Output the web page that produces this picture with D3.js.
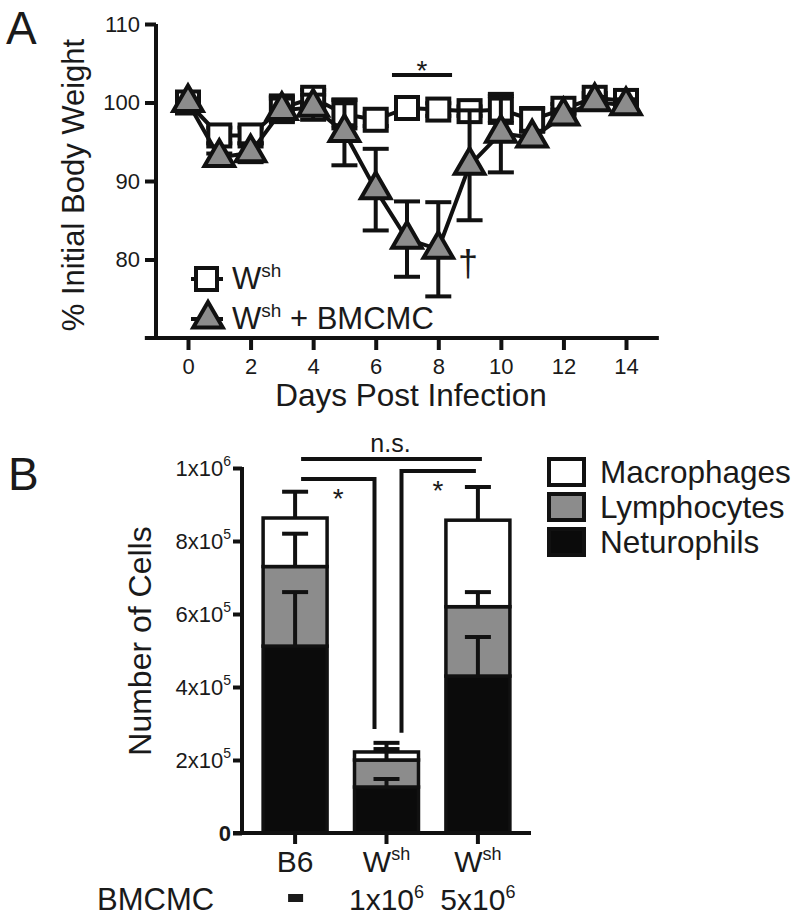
<!DOCTYPE html>
<html>
<head>
<meta charset="utf-8">
<title>Body weight and BAL cells</title>
<style>
  body { margin: 0; background: #fff; }
  text { font-family: "Liberation Sans", Arial, Helvetica, sans-serif; fill: #1a1a1a; }
</style>
</head>
<body>
<script src="https://d3js.org/d3.v7.min.js"></script>
<script>
// ---- panel A data: % initial body weight ----
var days = [0, 1, 2, 3, 4, 5, 6, 7, 8, 9, 10, 11, 12, 13, 14];
var wshMean = [100, 95.8, 95.8, 99.3, 100.6, 98.5, 97.8, 99.3, 99.1, 98.9, 99.1, 97.8, 99.2, 100.6, 100.2];
var wshErr  = [0.5, 1.0, 1.0, 1.6, 1.0, 1.8, 0.8, 0.8, 0.8, 0.6, 1.7, 1.5, 0.6, 0.6, 0.8];
var bmMean  = [100, 93.0, 93.6, 99.0, 99.4, 96.2, 88.9, 82.6, 81.3, 92.0, 96.1, 95.5, 98.3, 100.1, 99.6];
var bmErr   = [0.4, 0.5, 1.2, 1.5, 1.6, 4.2, 5.2, 4.8, 6.0, 7.0, 5.0, 0.8, 0.8, 0.6, 0.8];
var xTicksA = [0, 2, 4, 6, 8, 10, 12, 14];
var yTicksA = [80, 90, 100, 110];

// ---- panel B data: cell counts (stacked) ----
var groups = ["B6", "W", "W"];          // second and third carry "sh" superscript
var groupSup = ["", "sh", "sh"];
var doses = ["-", "1x10", "5x10"];
var doseSup = ["", "6", "6"];
var cellTypes = ["Neturophils", "Lymphocytes", "Macrophages"];
var neutrophils = [5.12e5, 1.26e5, 4.30e5];
var lymphocytes = [2.18e5, 0.74e5, 1.90e5];
var macrophages = [1.33e5, 0.22e5, 2.37e5];
var neutrophilsErr = [1.48e5, 0.22e5, 1.07e5];
var lymphocytesErr = [0.90e5, 0.30e5, 0.40e5];
var macrophagesErr = [0.72e5, 0.25e5, 0.91e5];
var yTicksB = [0, 2e5, 4e5, 6e5, 8e5, 1e6];
var yTickLabelsB = [["0", ""], ["2x10", "5"], ["4x10", "5"], ["6x10", "5"], ["8x10", "5"], ["1x10", "6"]];

var svg = d3.select("body").append("svg")
    .attr("width", 799).attr("height", 920);

var ink = "#111";
var grey = "#8c8c8c";

// ================= PANEL A =================
svg.append("text").attr("x", 6).attr("y", 44).style("font-size", "46px").text("A");

var xA = d3.scaleLinear().domain([0, 14]).range([188, 626]);
var yA = d3.scaleLinear().domain([70, 110]).range([338, 24]);

var gA = svg.append("g");

// y axis
var yAxA = gA.append("g")
    .attr("transform", "translate(156,0)")
    .call(d3.axisLeft(yA).tickValues(yTicksA).tickSize(11).tickSizeOuter(0).tickPadding(5));
// x axis
var xAxA = gA.append("g")
    .attr("transform", "translate(0,338)")
    .call(d3.axisBottom(xA).tickValues(xTicksA).tickSize(12).tickSizeOuter(0).tickPadding(8));
xAxA.select(".domain").attr("d", "M" + xA(-1.38) + ",0H" + xA(15.05));
yAxA.select(".domain").attr("d", "M0," + yA(110) + "V" + (yA(70) + 2));

[yAxA, xAxA].forEach(function(a) {
  a.selectAll("path, line").attr("stroke", ink).attr("stroke-width", 4);
  a.selectAll("text").style("font-size", "22px").attr("fill", "#1a1a1a");
});

svg.append("text")
    .attr("transform", "translate(84,185) rotate(-90)")
    .attr("text-anchor", "middle")
    .style("font-size", "31px")
    .text("% Initial Body Weight");

svg.append("text")
    .attr("x", 411).attr("y", 406)
    .attr("text-anchor", "middle")
    .style("font-size", "31.5px")
    .text("Days Post Infection");

function seriesA(mean, err) {
  return days.map(function(d, i) { return { d: d, m: mean[i], e: err[i] }; });
}
var wsh = seriesA(wshMean, wshErr);
var bm = seriesA(bmMean, bmErr);

var line = d3.line().x(function(p) { return xA(p.d); }).y(function(p) { return yA(p.m); });

function drawErr(g, data) {
  var cap = 13;
  data.forEach(function(p) {
    var x = xA(p.d);
    g.append("line").attr("x1", x).attr("x2", x)
        .attr("y1", yA(p.m + p.e)).attr("y2", yA(p.m - p.e));
    g.append("line").attr("x1", x - cap).attr("x2", x + cap)
        .attr("y1", yA(p.m + p.e)).attr("y2", yA(p.m + p.e));
    g.append("line").attr("x1", x - cap).attr("x2", x + cap)
        .attr("y1", yA(p.m - p.e)).attr("y2", yA(p.m - p.e));
  });
}

// squares series
var gW = gA.append("g").attr("stroke", ink).attr("stroke-width", 4).attr("fill", "none");
drawErr(gW, wsh);
gW.append("path").attr("d", line(wsh));
gW.selectAll("rect").data(wsh).enter().append("rect")
    .attr("x", function(p) { return xA(p.d) - 11; })
    .attr("y", function(p) { return yA(p.m) - 11; })
    .attr("width", 22).attr("height", 22)
    .attr("fill", "#fff");

// triangles series
var tri = d3.symbol().type(d3.symbolTriangle).size(380);
var gB = gA.append("g").attr("stroke", ink).attr("stroke-width", 4).attr("fill", "none");
drawErr(gB, bm);
gB.append("path").attr("d", line(bm));
gB.selectAll(".tri").data(bm).enter().append("path")
    .attr("class", "tri")
    .attr("d", tri)
    .attr("transform", function(p) { return "translate(" + xA(p.d) + "," + yA(p.m) + ")"; })
    .attr("fill", grey);

// significance bar, star, dagger
gA.append("line").attr("x1", xA(6.52)).attr("x2", xA(8.44)).attr("y1", 75).attr("y2", 75)
    .attr("stroke", ink).attr("stroke-width", 4);
gA.append("text").attr("x", xA(7.48)).attr("y", 80).attr("text-anchor", "middle")
    .style("font-size", "28px").text("*");
gA.append("text").attr("x", xA(8.95)).attr("y", 276).attr("text-anchor", "middle")
    .style("font-size", "36px").text("\u2020");

// legend A
var legA = gA.append("g");
function legRow(y, isTri, extra) {
  legA.append("line").attr("x1", 191).attr("x2", 223).attr("y1", y).attr("y2", y)
      .attr("stroke", ink).attr("stroke-width", 4);
  if (isTri) {
    legA.append("path").attr("d", tri).attr("transform", "translate(208," + y + ")")
        .attr("fill", grey).attr("stroke", ink).attr("stroke-width", 4);
  } else {
    legA.append("rect").attr("x", 196).attr("y", y - 11).attr("width", 21).attr("height", 22)
        .attr("fill", "#fff").attr("stroke", ink).attr("stroke-width", 4);
  }
  var t = legA.append("text").attr("x", 232).attr("y", y + 10).style("font-size", "31px");
  t.append("tspan").text("W");
  t.append("tspan").attr("dy", -12).style("font-size", "19px").text("sh");
  if (extra) t.append("tspan").attr("dy", 12).text(" " + extra);
}
legRow(279, false, "");
legRow(319, true, "+ BMCMC");

// ================= PANEL B =================
svg.append("text").attr("x", 8).attr("y", 490).style("font-size", "46px").text("B");

var xB = d3.scaleBand().domain([0, 1, 2]).range([243, 530]).paddingInner(0.3).paddingOuter(0.22);
var yB = d3.scaleLinear().domain([0, 1e6]).range([833, 468]);

var gBar = svg.append("g");

var stackData = groups.map(function(g, i) {
  return { i: i, Neturophils: neutrophils[i], Lymphocytes: lymphocytes[i], Macrophages: macrophages[i] };
});
var errs = { Neturophils: neutrophilsErr, Lymphocytes: lymphocytesErr, Macrophages: macrophagesErr };
var fills = { Neturophils: "#0b0b0b", Lymphocytes: grey, Macrophages: "#fff" };
var layers = d3.stack().keys(cellTypes)(stackData);

layers.forEach(function(layer) {
  gBar.selectAll(null).data(layer).enter().append("rect")
      .attr("x", function(d, i) { return xB(i); })
      .attr("y", function(d) { return yB(d[1]); })
      .attr("width", xB.bandwidth())
      .attr("height", function(d) { return yB(d[0]) - yB(d[1]); })
      .attr("fill", fills[layer.key])
      .attr("stroke", ink).attr("stroke-width", 3.5);
});
// error bars (upward only)
layers.forEach(function(layer) {
  layer.forEach(function(d, i) {
    var cx = xB(i) + xB.bandwidth() / 2;
    var top = d[1] + errs[layer.key][i];
    gBar.append("line").attr("x1", cx).attr("x2", cx).attr("y1", yB(d[1])).attr("y2", yB(top))
        .attr("stroke", ink).attr("stroke-width", 4);
    gBar.append("line").attr("x1", cx - 13).attr("x2", cx + 13).attr("y1", yB(top)).attr("y2", yB(top))
        .attr("stroke", ink).attr("stroke-width", 4);
  });
});

// axes B
var yAxB = svg.append("g").attr("transform", "translate(242,0)")
    .call(d3.axisLeft(yB).tickValues(yTicksB).tickSize(9).tickSizeOuter(0).tickFormat(""));
yAxB.select(".domain").attr("d", "M0," + (yB(1e6) - 1) + "V" + yB(0));
var xAxB = svg.append("g").attr("transform", "translate(0,833)")
    .call(d3.axisBottom(xB).tickSize(11).tickSizeOuter(0).tickFormat(""));
xAxB.select(".domain").attr("d", "M233,0H531");
[yAxB, xAxB].forEach(function(a) {
  a.selectAll("path, line").attr("stroke", ink).attr("stroke-width", 4);
});

yTicksB.forEach(function(v, i) {
  var lab = yTickLabelsB[i];
  var t = svg.append("text")
      .attr("x", 231).attr("y", yB(v) + 8)
      .attr("text-anchor", "end")
      .style("font-size", "22px");
  if (i === 0) { t.style("font-weight", "bold").text(lab[0]); return; }
  t.append("tspan").text(lab[0]);
  t.append("tspan").attr("dy", -10).style("font-size", "14px").text(lab[1]);
});

svg.append("text")
    .attr("transform", "translate(151,641) rotate(-90)")
    .attr("text-anchor", "middle")
    .style("font-size", "32px")
    .text("Number of Cells");

// category labels
groups.forEach(function(g, i) {
  var cx = xB(i) + xB.bandwidth() / 2;
  var t = svg.append("text").attr("x", cx).attr("y", 872)
      .attr("text-anchor", "middle").style("font-size", "30px");
  t.append("tspan").text(g);
  if (groupSup[i]) t.append("tspan").attr("dy", -12).style("font-size", "18px").text(groupSup[i]);

  if (doses[i] === "-") {
    svg.append("rect").attr("x", cx - 7).attr("y", 894).attr("width", 15).attr("height", 8).attr("fill", "#1a1a1a");
  } else {
    var d = svg.append("text").attr("x", cx).attr("y", 910)
        .attr("text-anchor", "middle").style("font-size", "30px");
    d.append("tspan").text(doses[i]);
    d.append("tspan").attr("dy", -12).style("font-size", "18px").text(doseSup[i]);
  }
});
svg.append("text").attr("x", 97).attr("y", 910)
    .style("font-size", "31px").text("BMCMC");

// significance brackets B
var gSig = svg.append("g").attr("stroke", ink).attr("stroke-width", 4).attr("fill", "none");
var c0 = xB(0) + xB.bandwidth() / 2, c1 = xB(1) + xB.bandwidth() / 2, c2 = xB(2) + xB.bandwidth() / 2;
gSig.append("line").attr("x1", c0 + 6).attr("x2", c2 + 4).attr("y1", 459).attr("y2", 459);
gSig.append("path").attr("d", "M" + (c0 + 6) + ",479H" + (c1 - 12) + "V" + yB(2.85e5));
gSig.append("path").attr("d", "M" + (c1 + 15) + "," + yB(2.75e5) + "V471H" + (c2 - 2));
svg.append("text").attr("x", (c0 + c2) / 2 + 4).attr("y", 452).attr("text-anchor", "middle")
    .style("font-size", "25px").text("n.s.");
svg.append("text").attr("x", c0 + 43).attr("y", 508).attr("text-anchor", "middle")
    .style("font-size", "28px").text("*");
svg.append("text").attr("x", c2 - 40).attr("y", 500).attr("text-anchor", "middle")
    .style("font-size", "28px").text("*");

// legend B (top to bottom: Macrophages, Lymphocytes, Neturophils)
var legB = svg.append("g");
cellTypes.slice().reverse().forEach(function(k, i) {
  var y = 459 + i * 35;
  legB.append("rect").attr("x", 549).attr("y", y).attr("width", 35).attr("height", 26)
      .attr("fill", fills[k]).attr("stroke", ink).attr("stroke-width", 4);
  legB.append("text").attr("x", 600).attr("y", y + 24).style("font-size", "31.5px").text(k);
});
</script>
</body>
</html>
